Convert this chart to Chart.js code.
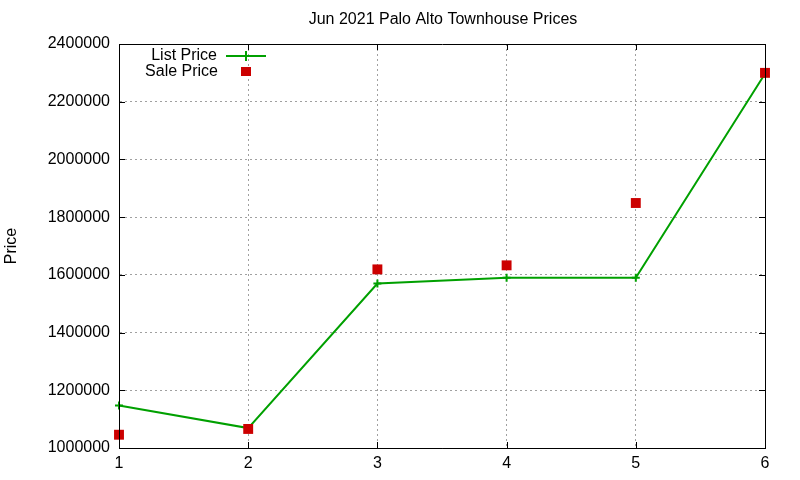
<!DOCTYPE html>
<html>
<head>
<meta charset="utf-8">
<script src="https://cdn.jsdelivr.net/npm/chart.js@4"></script>
<style>
  html, body { margin: 0; padding: 0; background: #fff; }
  #wrap { width: 800px; height: 480px; }
</style>
</head>
<body>
<div id="wrap"><canvas id="grafico" width="800" height="480"></canvas></div>
<script>
// dados
var casas = [1, 2, 3, 4, 5, 6]
var listPrice = [1147000, 1069000, 1570000, 1590000, 1590000, 2297000]
var salePrice = [1046000, 1066000, 1619000, 1633000, 1849000, 2300000]
var yTicks = [1000000, 1200000, 1400000, 1600000, 1800000, 2000000, 2200000, 2400000]

var verde = '#00a000'
var vermelho = '#cc0000'
var fonte = '"Liberation Sans", Arial, sans-serif'

// moldura, ticks para dentro, legenda e titulo estilo gnuplot
var extras = {
  id: 'extras',
  afterDraw: function (chart) {
    var ctx = chart.ctx
    var xs = chart.scales.x
    var ys = chart.scales.y
    var area = chart.chartArea
    ctx.save()
    ctx.strokeStyle = '#000'
    ctx.lineWidth = 1
    ctx.beginPath()
    ctx.rect(Math.round(area.left) + 0.5, Math.round(area.top) + 0.5,
      Math.round(area.right - area.left), Math.round(area.bottom - area.top))
    yTicks.forEach(function (v) {
      var py = Math.round(ys.getPixelForValue(v)) + 0.5
      ctx.moveTo(area.left, py); ctx.lineTo(area.left + 6, py)
      ctx.moveTo(area.right, py); ctx.lineTo(area.right - 6, py)
    })
    casas.forEach(function (v) {
      var px = Math.round(xs.getPixelForValue(v)) + 0.5
      ctx.moveTo(px, area.bottom); ctx.lineTo(px, area.bottom - 6)
      ctx.moveTo(px, area.top); ctx.lineTo(px, area.top + 6)
    })
    ctx.stroke()

    // titulo
    ctx.fillStyle = '#000'
    ctx.font = '16px ' + fonte
    ctx.textAlign = 'center'
    ctx.textBaseline = 'middle'
    ctx.fillText('Jun 2021 Palo Alto Townhouse Prices', 443, 20)

    // legenda
    ctx.textAlign = 'right'
    ctx.fillText('List Price', 217, 56)
    ctx.fillText('Sale Price', 218, 72)
    ctx.strokeStyle = verde
    ctx.lineWidth = 2
    ctx.beginPath()
    ctx.moveTo(226, 56); ctx.lineTo(266, 56)
    ctx.moveTo(246, 51); ctx.lineTo(246, 61)
    ctx.stroke()
    ctx.fillStyle = vermelho
    ctx.fillRect(241, 67, 10, 9)
    ctx.restore()
  }
}

var data = {
  datasets: [{
    label: 'List Price',
    data: casas.map(function (c, i) { return { x: c, y: listPrice[i] } }),
    borderColor: verde,
    backgroundColor: verde,
    borderWidth: 2,
    pointStyle: 'cross',
    pointRadius: 4,
    pointBorderWidth: 2,
    tension: 0,
    clip: false,
    order: 1
  }, {
    label: 'Sale Price',
    data: casas.map(function (c, i) { return { x: c, y: salePrice[i] } }),
    borderColor: vermelho,
    backgroundColor: vermelho,
    showLine: false,
    pointStyle: 'rect',
    pointRadius: 7,
    pointBorderWidth: 0,
    clip: false,
    order: 0
  }]
}

var config = {
  type: 'line',
  data: data,
  plugins: [extras],
  options: {
    responsive: false,
    animation: false,
    devicePixelRatio: 1,
    layout: { padding: { top: 44, right: 35, left: 0, bottom: 0 } },
    plugins: {
      legend: { display: false },
      title: { display: false },
      tooltip: { enabled: false }
    },
    scales: {
      x: {
        type: 'linear',
        min: 1,
        max: 6,
        afterBuildTicks: function (s) { s.ticks = casas.map(function (v) { return { value: v } }) },
        afterFit: function (s) { s.height = 32 },
        grid: { color: '#a0a0a0', drawTicks: false },
        border: { display: true, color: '#000', width: 1, dash: [2, 3] },
        ticks: { color: '#000', padding: 6, font: { family: fonte, size: 16 } }
      },
      y: {
        min: 1000000,
        max: 2400000,
        afterBuildTicks: function (s) { s.ticks = yTicks.map(function (v) { return { value: v } }) },
        afterFit: function (s) { s.width = 119 },
        grid: { color: '#a0a0a0', drawTicks: false },
        border: { display: true, color: '#000', width: 1, dash: [2, 3] },
        title: { display: true, text: 'Price', color: '#000', padding: { top: 2, bottom: 0 }, font: { family: fonte, size: 16 } },
        ticks: { color: '#000', padding: 9, font: { family: fonte, size: 16 }, callback: function (v) { return String(v) } }
      }
    }
  }
}

var meuGrafico = new Chart(document.getElementById('grafico'), config)
</script>
</body>
</html>
